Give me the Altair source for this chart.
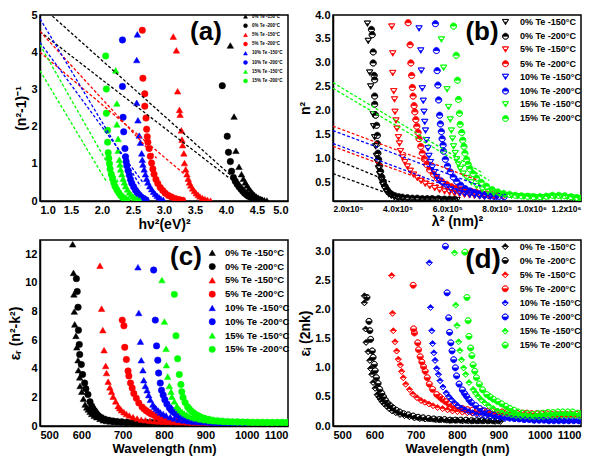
import altair as alt
import pandas as pd

SERIES = ["0% Te -150°C", "0% Te -200°C", "5% Te -150°C", "5% Te -200°C",
          "10% Te -150°C", "10% Te -200°C", "15% Te -150°C", "15% Te -200°C"]
COLORS = ["#000000", "#000000", "#ff0000", "#ff0000", "#0000ff", "#0000ff", "#00ff00", "#00ff00"]

# ---------------- panel (a): (n^2-1)^-1 vs (h nu)^2 ----------------
A_0_150 = [(4.07,4.18),(4.13,2.27),(4.16,1.35),(4.21,0.92),(4.25,0.72),(4.28,0.60),(4.31,0.50),(4.34,0.42),(4.37,0.34),(4.40,0.27),(4.43,0.21),(4.46,0.16),(4.49,0.12),(4.52,0.09),(4.55,0.06),(4.58,0.04),(4.62,0.02),(4.66,0.01)]
A_0_200 = [(3.94,3.10),(4.02,1.74),(4.04,1.31),(4.07,1.06),(4.09,0.80),(4.12,0.63),(4.15,0.53),(4.18,0.45),(4.21,0.38),(4.24,0.32),(4.27,0.26),(4.30,0.21),(4.33,0.17),(4.36,0.13),(4.40,0.10),(4.44,0.07),(4.48,0.05),(4.52,0.03),(4.56,0.02)]
A_5_150 = [(3.15,4.42),(3.20,4.05),(3.22,2.95),(3.25,2.45),(3.26,2.32),(3.28,1.90),(3.29,1.65),(3.30,1.50),(3.32,1.28),(3.33,1.02),(3.35,0.85),(3.37,0.72),(3.39,0.60),(3.41,0.50),(3.43,0.42),(3.46,0.34),(3.49,0.27),(3.52,0.21),(3.55,0.16),(3.58,0.12),(3.62,0.08),(3.66,0.05),(3.70,0.03),(3.75,0.01)]
A_5_200 = [(2.65,4.59),(2.66,3.30),(2.69,2.88),(2.69,2.55),(2.71,2.23),(2.72,1.93),(2.73,1.73),(2.74,1.58),(2.76,1.41),(2.78,1.20),(2.80,1.02),(2.82,0.86),(2.84,0.72),(2.87,0.58),(2.90,0.47),(2.94,0.36),(2.98,0.28),(3.02,0.21),(3.07,0.15),(3.12,0.11),(3.18,0.07),(3.24,0.04),(3.30,0.02)]
A_10_150 = [(2.57,4.48),(2.56,3.79),(2.56,2.64),(2.58,2.17),(2.60,1.76),(2.62,1.57),(2.64,1.28),(2.65,1.11),(2.66,0.98),(2.68,0.85),(2.70,0.72),(2.72,0.60),(2.74,0.50),(2.77,0.40),(2.80,0.32),(2.83,0.25),(2.86,0.19),(2.89,0.14),(2.92,0.10),(2.95,0.06),(2.99,0.03)]
A_10_200 = [(2.33,4.33),(2.33,3.08),(2.34,2.25),(2.35,1.86),(2.37,1.41),(2.38,1.19),(2.39,1.06),(2.40,0.95),(2.42,0.82),(2.44,0.70),(2.46,0.58),(2.48,0.48),(2.51,0.38),(2.54,0.29),(2.57,0.22),(2.60,0.16),(2.63,0.11),(2.67,0.07),(2.71,0.03)]
A_15_150 = [(2.22,3.51),(2.24,2.62),(2.24,2.06),(2.26,1.67),(2.26,1.35),(2.28,1.11),(2.29,0.98),(2.30,0.85),(2.32,0.72),(2.34,0.60),(2.36,0.50),(2.38,0.40),(2.41,0.31),(2.44,0.23),(2.47,0.17),(2.50,0.12),(2.53,0.08),(2.57,0.05),(2.61,0.02)]
A_15_200 = [(2.06,3.90),(2.07,3.01),(2.07,2.36),(2.09,1.90),(2.09,1.58),(2.10,1.30),(2.11,1.15),(2.12,1.00),(2.13,0.86),(2.15,0.72),(2.17,0.60),(2.19,0.49),(2.21,0.39),(2.24,0.30),(2.27,0.22),(2.30,0.15),(2.33,0.10),(2.36,0.06),(2.40,0.03)]
A_FIT_COLOR = ["#000000", "#000000", "#ff0000", "#ff0000", "#0000ff", "#0000ff", "#00ff00", "#00ff00"]
A_FIT_X0 = [1.20, 1.00, 1.00, 1.00, 1.00, 1.00, 1.00, 1.00]
A_FIT_Y0 = [4.97, 4.55, 4.56, 4.00, 4.90, 4.26, 4.20, 3.50]
A_FIT_X1 = [4.07, 4.05, 2.88, 3.33, 2.62, 2.66, 2.28, 2.08]
A_FIT_Y1 = [0.70, 0.62, 1.15, 0.72, 0.40, 0.50, 0.45, 0.50]
A_XTICKS = [1.0, 1.5, 2.0, 2.5, 3.0, 3.5, 4.0, 4.5, 5.0]
A_YTICKS = [0, 1, 2, 3, 4, 5]

# ---------------- panel (b): n^2 vs lambda^2 ----------------
B_0_150 = [(3.39e5,3.82),(3.42e5,3.46),(3.48e5,2.80),(3.52e5,2.51),(3.62e5,1.93),(3.64e5,1.68),(3.68e5,1.45),(3.72e5,1.26),(3.75e5,1.06),(3.79e5,0.93),(3.83e5,0.80),(3.88e5,0.68),(3.94e5,0.56),(4.00e5,0.46),(4.08e5,0.38),(4.16e5,0.31),(4.25e5,0.26),(4.35e5,0.23),(4.47e5,0.20),(4.60e5,0.18),(4.80e5,0.17),(5.00e5,0.16),(5.20e5,0.16),(5.40e5,0.15),(5.60e5,0.15),(5.80e5,0.15),(6.00e5,0.15),(6.20e5,0.15),(6.40e5,0.15),(6.60e5,0.14),(6.80e5,0.14),(7.00e5,0.14)]
B_0_200 = [(3.55e5,3.70),(3.58e5,3.59),(3.62e5,3.23),(3.62e5,3.00),(3.66e5,2.74),(3.68e5,2.65),(3.68e5,2.31),(3.68e5,2.14),(3.72e5,1.91),(3.76e5,1.70),(3.79e5,1.49),(3.79e5,1.32),(3.81e5,1.12),(3.84e5,0.99),(3.88e5,0.86),(3.92e5,0.74),(3.97e5,0.62),(4.03e5,0.52),(4.10e5,0.43),(4.18e5,0.36),(4.27e5,0.30),(4.37e5,0.26),(4.50e5,0.23),(4.65e5,0.21),(4.80e5,0.20),(5.00e5,0.19),(5.20e5,0.18),(5.40e5,0.18),(5.60e5,0.17),(5.80e5,0.17),(6.00e5,0.17),(6.25e5,0.17),(6.50e5,0.16),(6.70e5,0.16),(6.90e5,0.16)]
B_5_150 = [(4.37e5,3.76),(4.41e5,3.20),(4.41e5,2.79),(4.45e5,2.41),(4.48e5,2.24),(4.50e5,1.98),(4.54e5,1.80),(4.58e5,1.63),(4.64e5,1.45),(4.68e5,1.32),(4.72e5,1.16),(4.81e5,1.03),(4.90e5,0.93),(5.00e5,0.84),(5.12e5,0.75),(5.25e5,0.67),(5.40e5,0.60),(5.55e5,0.54),(5.72e5,0.48),(5.90e5,0.43),(6.10e5,0.39),(6.30e5,0.35),(6.50e5,0.32),(6.70e5,0.30),(6.90e5,0.28),(7.10e5,0.27),(7.30e5,0.25),(7.50e5,0.24),(7.70e5,0.23),(7.90e5,0.22),(8.10e5,0.21),(8.30e5,0.21),(8.50e5,0.20)]
B_5_200 = [(5.03e5,3.84),(5.11e5,3.38),(5.14e5,3.00),(5.17e5,2.74),(5.20e5,2.49),(5.23e5,2.31),(5.27e5,2.11),(5.30e5,1.98),(5.34e5,1.82),(5.38e5,1.68),(5.43e5,1.55),(5.47e5,1.42),(5.54e5,1.26),(5.60e5,1.12),(5.68e5,1.00),(5.78e5,0.88),(5.90e5,0.77),(6.05e5,0.68),(6.20e5,0.60),(6.38e5,0.53),(6.58e5,0.47),(6.78e5,0.42),(6.98e5,0.39),(7.18e5,0.36),(7.38e5,0.34),(7.58e5,0.32),(7.78e5,0.30),(7.98e5,0.28),(8.18e5,0.27),(8.40e5,0.26),(8.62e5,0.25),(8.85e5,0.24)]
B_10_150 = [(5.47e5,3.72),(5.54e5,3.26),(5.56e5,2.84),(5.60e5,2.47),(5.64e5,2.21),(5.67e5,1.98),(5.70e5,1.77),(5.73e5,1.59),(5.77e5,1.39),(5.83e5,1.22),(5.87e5,1.06),(5.93e5,0.93),(6.00e5,0.82),(6.08e5,0.72),(6.18e5,0.62),(6.30e5,0.54),(6.43e5,0.47),(6.58e5,0.41),(6.75e5,0.36),(6.93e5,0.32),(7.12e5,0.29),(7.32e5,0.27),(7.52e5,0.25),(7.72e5,0.24),(7.92e5,0.22),(8.12e5,0.21),(8.35e5,0.21),(8.60e5,0.20)]
B_10_200 = [(6.13e5,3.82),(6.17e5,3.26),(6.20e5,2.84),(6.23e5,2.54),(6.26e5,2.23),(6.30e5,1.91),(6.33e5,1.73),(6.37e5,1.57),(6.40e5,1.42),(6.44e5,1.29),(6.46e5,1.16),(6.53e5,0.99),(6.62e5,0.85),(6.73e5,0.73),(6.85e5,0.62),(6.99e5,0.53),(7.15e5,0.45),(7.33e5,0.38),(7.52e5,0.33),(7.70e5,0.30),(7.88e5,0.27),(8.08e5,0.25),(8.28e5,0.24),(8.50e5,0.22),(8.70e5,0.22),(8.90e5,0.21)]
B_15_150 = [(6.37e5,3.49),(6.46e5,2.90),(6.60e5,2.45),(6.66e5,2.08),(6.73e5,1.82),(6.77e5,1.59),(6.82e5,1.42),(6.86e5,1.26),(6.93e5,1.12),(6.99e5,0.99),(7.06e5,0.88),(7.13e5,0.79),(7.25e5,0.69),(7.39e5,0.60),(7.58e5,0.51),(7.79e5,0.43),(8.02e5,0.36),(8.25e5,0.31),(8.48e5,0.28),(8.72e5,0.26),(8.95e5,0.24),(9.20e5,0.23),(9.45e5,0.22),(9.70e5,0.21),(9.95e5,0.21),(1.02e6,0.20),(1.045e6,0.20),(1.07e6,0.21),(1.095e6,0.21),(1.12e6,0.21),(1.145e6,0.20),(1.17e6,0.19),(1.195e6,0.17)]
B_15_200 = [(6.86e5,3.77),(6.97e5,3.16),(7.02e5,2.64),(7.06e5,2.24),(7.10e5,1.95),(7.13e5,1.72),(7.19e5,1.55),(7.23e5,1.39),(7.28e5,1.26),(7.32e5,1.12),(7.39e5,0.99),(7.45e5,0.89),(7.52e5,0.79),(7.65e5,0.69),(7.79e5,0.60),(7.98e5,0.51),(8.19e5,0.43),(8.42e5,0.36),(8.65e5,0.31),(8.88e5,0.28),(9.12e5,0.26),(9.36e5,0.24),(9.60e5,0.23),(9.85e5,0.22),(1.01e6,0.21),(1.035e6,0.21),(1.06e6,0.22),(1.085e6,0.24),(1.11e6,0.24),(1.135e6,0.23),(1.16e6,0.21),(1.185e6,0.19),(1.20e6,0.18)]
B_FIT_COLOR = ["#00ff00", "#00ff00", "#ff0000", "#ff0000", "#0000ff", "#0000ff", "#000000", "#000000"]
B_FIT_X0 = [2.0e5, 2.0e5, 2.0e5, 2.0e5, 2.0e5, 2.0e5, 2.0e5, 2.0e5]
B_FIT_Y0 = [2.59, 2.47, 1.68, 1.26, 1.59, 1.32, 1.01, 0.69]
B_FIT_X1 = [8.05e5, 8.30e5, 7.80e5, 7.00e5, 8.00e5, 7.40e5, 4.30e5, 4.10e5]
B_FIT_Y1 = [0.70, 0.55, 0.56, 0.30, 0.42, 0.28, 0.52, 0.30]
B_XTICKS = [2.0e5, 4.0e5, 6.0e5, 8.0e5, 1.0e6, 1.2e6]
B_YTICKS = [0.5, 1.0, 1.5, 2.0, 2.5, 3.0, 3.5, 4.0]

# ---------------- panel (c): eps_r vs wavelength ----------------
C_0_150 = [(579,12.7),(581,10.7),(582,9.2),(583,8.0),(584,7.1),(587,6.3),(589,5.5),(592,4.6),(593,3.9),(596,3.4),(597,2.8),(601,2.4),(605,1.9),(609,1.5),(613,1.3),(617,1.15),(621,1.0),(625,0.85),(631,0.72),(637,0.62),(645,0.5),(653,0.4),(661,0.35),(670,0.32),(680,0.29),(690,0.28),(700,0.27),(710,0.26),(720,0.26),(730,0.25),(740,0.25),(752,0.25),(764,0.24),(776,0.24),(788,0.24),(800,0.24),(812,0.23),(824,0.23),(836,0.23),(848,0.23),(860,0.22)]
C_0_200 = [(588,10.3),(590,9.4),(592,8.3),(593,6.7),(595,5.7),(596,5.0),(600,4.3),(603,3.6),(608,3.0),(611,2.6),(616,2.2),(621,1.7),(625,1.4),(628,1.22),(632,1.06),(636,0.9),(641,0.73),(648,0.6),(657,0.48),(667,0.4),(677,0.35),(687,0.31),(698,0.29),(710,0.27),(722,0.26),(734,0.25),(746,0.25),(758,0.24),(770,0.24),(782,0.24),(794,0.23),(806,0.23),(818,0.23),(830,0.23),(842,0.22),(854,0.22)]
C_5_150 = [(645,11.2),(649,8.2),(652,6.7),(655,5.3),(659,4.2),(661,3.7),(665,3.1),(669,2.7),(673,2.4),(677,2.05),(683,1.72),(689,1.39),(693,1.24),(697,1.1),(703,0.97),(709,0.84),(716,0.73),(725,0.62),(735,0.52),(745,0.44),(755,0.4),(766,0.36),(777,0.33),(788,0.31),(799,0.3),(810,0.29),(822,0.28),(834,0.27),(846,0.26),(858,0.25),(870,0.24),(882,0.24),(894,0.23),(906,0.23)]
C_5_200 = [(699,7.4),(703,7.0),(705,5.5),(709,4.65),(713,3.85),(715,3.5),(719,3.0),(723,2.65),(727,2.27),(733,1.94),(739,1.61),(747,1.32),(752,1.18),(757,1.06),(763,0.95),(769,0.84),(777,0.73),(785,0.62),(795,0.53),(805,0.45),(816,0.39),(828,0.35),(840,0.32),(852,0.31),(864,0.3),(876,0.29),(888,0.28),(900,0.27),(912,0.27),(924,0.26),(936,0.26),(948,0.25),(960,0.25),(972,0.24)]
C_10_150 = [(737,11.1),(739,7.9),(743,5.9),(745,4.6),(749,3.9),(751,3.2),(755,2.8),(759,2.5),(763,2.16),(767,1.83),(773,1.5),(777,1.35),(781,1.21),(786,1.08),(791,0.95),(798,0.84),(805,0.73),(815,0.62),(825,0.52),(836,0.44),(848,0.38),(860,0.33),(872,0.3),(884,0.28),(896,0.26),(908,0.25),(920,0.24),(932,0.23),(944,0.23),(956,0.22),(968,0.22)]
C_10_200 = [(775,10.9),(779,7.4),(782,5.6),(785,4.6),(787,3.7),(791,3.0),(794,2.5),(798,2.16),(802,1.83),(807,1.54),(813,1.28),(817,1.14),(821,1.01),(826,0.9),(831,0.79),(838,0.7),(845,0.62),(855,0.53),(865,0.45),(876,0.39),(888,0.34),(900,0.31),(912,0.29),(924,0.27),(936,0.26),(948,0.25),(960,0.24),(972,0.24),(984,0.23),(996,0.23)]
C_15_150 = [(795,10.2),(801,7.3),(805,5.4),(806,4.25),(809,3.45),(813,2.8),(817,2.4),(819,2.05),(825,1.72),(831,1.39),(835,1.24),(839,1.1),(844,0.98),(849,0.88),(855,0.78),(861,0.68),(869,0.6),(877,0.53),(888,0.46),(900,0.4),(912,0.36),(924,0.33),(936,0.31),(948,0.29),(960,0.28),(972,0.27),(984,0.26),(996,0.26),(1008,0.25),(1020,0.25),(1032,0.24),(1044,0.24),(1056,0.24),(1068,0.24),(1080,0.24),(1092,0.24),(1100,0.24)]
C_15_200 = [(825,9.2),(829,6.3),(833,4.7),(837,3.6),(841,2.9),(843,2.4),(846,2.0),(851,1.65),(857,1.34),(861,1.2),(865,1.06),(870,0.95),(875,0.84),(882,0.73),(889,0.63),(898,0.54),(908,0.47),(918,0.41),(930,0.37),(942,0.34),(954,0.32),(966,0.3),(978,0.29),(990,0.28),(1002,0.28),(1014,0.27),(1026,0.27),(1038,0.26),(1050,0.26),(1062,0.26),(1074,0.26),(1086,0.26),(1098,0.26)]
C_XTICKS = [500, 600, 700, 800, 900, 1000, 1100]
C_YTICKS = [0, 2, 4, 6, 8, 10, 12]

# ---------------- panel (d): eps_i vs wavelength ----------------
D_0_150 = [(576,2.24),(576,2.12),(579,1.67),(580,1.44),(585,1.28),(589,1.13),(591,0.99),(594,0.89),(597,0.75),(602,0.65),(607,0.54),(611,0.5),(615,0.46),(619,0.42),(624,0.38),(630,0.34),(636,0.3),(643,0.26),(652,0.23),(662,0.2),(673,0.18),(685,0.16),(697,0.14),(710,0.13),(723,0.12),(736,0.12),(749,0.11),(762,0.11),(775,0.1),(788,0.1),(801,0.1),(814,0.09),(827,0.09),(840,0.09),(853,0.09),(866,0.09),(879,0.09),(892,0.08),(905,0.08)]
D_0_200 = [(582,2.21),(587,1.8),(589,1.64),(591,1.49),(595,1.29),(597,1.18),(600,1.06),(602,0.95),(605,0.83),(609,0.73),(613,0.63),(618,0.56),(622,0.5),(627,0.44),(632,0.39),(638,0.35),(645,0.31),(653,0.27),(661,0.24),(671,0.21),(682,0.19),(694,0.17),(706,0.15),(718,0.14),(731,0.13),(744,0.12),(757,0.11),(770,0.11),(783,0.1),(796,0.1),(809,0.1),(822,0.1),(835,0.09),(848,0.09),(861,0.09),(874,0.09),(887,0.09),(900,0.09)]
D_5_150 = [(642,2.59),(644,1.94),(646,1.64),(650,1.45),(654,1.29),(658,1.15),(663,1.05),(666,0.94),(670,0.83),(676,0.72),(685,0.63),(693,0.55),(703,0.49),(713,0.44),(722,0.41),(732,0.38),(742,0.35),(753,0.32),(765,0.3),(777,0.28),(789,0.26),(801,0.25),(813,0.24),(825,0.23),(837,0.22),(849,0.22),(861,0.21),(873,0.21),(885,0.21),(897,0.2),(909,0.2),(921,0.2),(933,0.19),(945,0.19),(957,0.19),(969,0.18),(981,0.18),(993,0.17),(1005,0.17)]
D_5_200 = [(694,2.42),(695,1.67),(697,1.6),(705,1.43),(707,1.31),(711,1.19),(715,1.1),(719,1.02),(723,0.94),(728,0.83),(733,0.72),(741,0.63),(751,0.54),(758,0.5),(764,0.46),(772,0.42),(780,0.38),(790,0.35),(801,0.32),(813,0.3),(825,0.28),(837,0.27),(849,0.26),(861,0.26),(873,0.25),(885,0.25),(897,0.24),(909,0.24),(921,0.23),(933,0.23),(945,0.22),(957,0.22),(969,0.22),(981,0.21),(993,0.21),(1005,0.21),(1017,0.21),(1029,0.2),(1041,0.2),(1053,0.2),(1065,0.2),(1077,0.2),(1089,0.2),(1100,0.2)]
D_10_150 = [(733,2.81),(736,2.04),(739,1.64),(741,1.42),(744,1.26),(747,1.13),(751,0.99),(755,0.89),(759,0.78),(766,0.67),(774,0.57),(780,0.51),(786,0.46),(794,0.4),(802,0.35),(811,0.31),(820,0.28),(829,0.25),(838,0.23),(848,0.2),(858,0.19),(869,0.17),(880,0.16),(892,0.15),(904,0.14),(916,0.13),(928,0.13),(940,0.12),(952,0.12),(964,0.11),(976,0.11),(988,0.1),(1000,0.1),(1012,0.1),(1024,0.1),(1036,0.1),(1048,0.1),(1060,0.09),(1072,0.09),(1084,0.09),(1096,0.09)]
D_10_200 = [(772,3.09),(776,2.29),(780,1.86),(782,1.61),(785,1.43),(788,1.29),(792,1.14),(796,1.0),(799,0.86),(805,0.72),(813,0.62),(818,0.56),(823,0.51),(829,0.45),(835,0.4),(845,0.35),(855,0.3),(866,0.26),(878,0.22),(890,0.19),(902,0.17),(914,0.15),(926,0.14),(938,0.13),(950,0.12),(962,0.11),(974,0.11),(986,0.1),(998,0.1),(1010,0.1),(1022,0.09),(1034,0.09),(1046,0.09),(1058,0.09),(1070,0.09),(1082,0.09),(1094,0.09)]
D_15_150 = [(794,2.98),(797,2.08),(800,1.73),(804,1.45),(807,1.3),(811,1.14),(816,1.0),(821,0.89),(829,0.75),(839,0.63),(845,0.57),(851,0.51),(859,0.45),(867,0.4),(877,0.35),(888,0.3),(899,0.26),(910,0.23),(921,0.21),(932,0.19),(943,0.18),(954,0.17),(965,0.17),(976,0.16),(987,0.16),(998,0.16),(1009,0.16),(1020,0.17),(1031,0.17),(1042,0.18),(1053,0.18),(1064,0.18),(1075,0.18),(1086,0.18),(1097,0.17)]
D_15_200 = [(819,2.99),(824,2.21),(827,1.81),(829,1.54),(833,1.34),(836,1.21),(839,1.05),(843,0.94),(847,0.83),(854,0.72),(862,0.62),(872,0.54),(880,0.5),(888,0.46),(898,0.42),(908,0.38),(918,0.34),(928,0.3),(938,0.27),(948,0.24),(960,0.22),(972,0.21),(984,0.2),(996,0.21),(1008,0.22),(1020,0.23),(1032,0.23),(1044,0.24),(1056,0.24),(1068,0.24),(1080,0.24),(1092,0.22),(1100,0.21)]
D_XTICKS = [500, 600, 700, 800, 900, 1000, 1100]
D_YTICKS = [0.0, 0.5, 1.0, 1.5, 2.0, 2.5, 3.0]

# ---------------- marker shapes ----------------
TRI_DOWN_HALF = "M-1,-0.85L1,-0.85L0,0.95Z M-1,-0.85L-0.5,0.05L0.5,0.05L1,-0.85Z"
CIRCLE_TOP_HALF = "M-1,0A1,1 0 1,1 1,0A1,1 0 1,1 -1,0Z M1,0L-1,0A1,1 0 0,0 1,0Z"
CIRCLE_BOTTOM_HALF = "M-1,0A1,1 0 1,1 1,0A1,1 0 1,1 -1,0Z M-1,0L1,0A1,1 0 0,0 -1,0Z"
DIAMOND_TOP_HALF = "M0,-1L1,0L0,1L-1,0Z M1,0L-1,0L0,1Z"
SHAPES_A = ["triangle-up", "circle"] * 4
SHAPES_B = [TRI_DOWN_HALF, CIRCLE_TOP_HALF] * 4
SHAPES_C = ["triangle-up", "circle"] * 4
SHAPES_D = [DIAMOND_TOP_HALF, CIRCLE_BOTTOM_HALF] * 4

FONT = "Liberation Sans"
W, H = 248, 186


def frame(lists):
    rows = []
    for name, pts in zip(SERIES, lists):
        for x, y in pts:
            rows.append({"series": name, "x": x, "y": y})
    return pd.DataFrame(rows)


def fit_frame(colors, x0, y0, x1, y1):
    rows = []
    for i, c in enumerate(colors):
        rows.append({"line": i, "c": c, "x": x0[i], "y": y0[i]})
        rows.append({"line": i, "c": c, "x": x1[i], "y": y1[i]})
    return pd.DataFrame(rows)


def make_legend(x, y, font, sym, sw, rowpad, offset):
    return alt.Legend(orient="none", legendX=x, legendY=y, direction="vertical", title=None,
                      labelFont=FONT, labelFontSize=font, labelFontWeight="bold", labelColor="black",
                      symbolSize=sym, symbolStrokeWidth=sw, symbolOpacity=1, rowPadding=rowpad,
                      labelOffset=offset, padding=0, labelLimit=300)


def panel(lists, shapes, xdom, ydom, xaxis, yaxis, leg, msize, mstroke, label, lpos, lsize, fits=None):
    xs = alt.Scale(domain=xdom, nice=False, zero=False)
    ys = alt.Scale(domain=ydom, nice=False, zero=False)
    pts = alt.Chart(frame(lists)).mark_point(filled=True, size=msize, strokeWidth=mstroke,
                                             opacity=1, clip=True).encode(
        x=alt.X("x:Q", scale=xs, axis=xaxis),
        y=alt.Y("y:Q", scale=ys, axis=yaxis),
        fill=alt.Fill("series:N", scale=alt.Scale(domain=SERIES, range=COLORS), legend=leg),
        stroke=alt.Stroke("series:N", scale=alt.Scale(domain=SERIES, range=COLORS), legend=leg),
        shape=alt.Shape("series:N", scale=alt.Scale(domain=SERIES, range=shapes), legend=leg),
    )
    layers = [pts]
    if fits is not None:
        layers.append(alt.Chart(fits).mark_line(strokeDash=[3, 2], strokeWidth=1.3, clip=True).encode(
            x=alt.X("x:Q", scale=xs, axis=xaxis),
            y=alt.Y("y:Q", scale=ys, axis=yaxis),
            detail="line:N",
            color=alt.Color("c:N", scale=None),
        ))
    layers.append(alt.Chart(pd.DataFrame({"t": [label]})).mark_text(
        font=FONT, fontSize=lsize, fontWeight="bold", color="black").encode(
        text="t:N", x=alt.value(lpos[0]), y=alt.value(lpos[1])))
    return alt.layer(*layers).properties(width=W, height=H)


pa = panel([A_0_150, A_0_200, A_5_150, A_5_200, A_10_150, A_10_200, A_15_150, A_15_200], SHAPES_A,
           [1.0, 5.0], [0, 5],
           alt.Axis(values=A_XTICKS, format=".1f", title="hν²(eV)²", labelFontSize=11, titleFontSize=14),
           alt.Axis(values=A_YTICKS, format="d", title="(n²-1)⁻¹", labelFontSize=11, titleFontSize=14),
           make_legend(203, -1, 4.5, 16, 0.5, 2.2, 4), 42, 0.5, "(a)", (166, 17), 26,
           fits=fit_frame(A_FIT_COLOR, A_FIT_X0, A_FIT_Y0, A_FIT_X1, A_FIT_Y1))

B_LABEL_EXPR = ("datum.value >= 1000000 ? format(datum.value / 1000000, '.1f') + 'x10⁶' : "
                "format(datum.value / 100000, '.1f') + 'x10⁵'")
pb = panel([B_0_150, B_0_200, B_5_150, B_5_200, B_10_150, B_10_200, B_15_150, B_15_200], SHAPES_B,
           [2.0e5, 1.2e6], [0.12, 4.0],
           alt.Axis(values=B_XTICKS, labelExpr=B_LABEL_EXPR, title="λ² (nm)²", labelFontSize=8.5,
                    titleFontSize=14, labelOverlap=False,
                    labelAlign={"condition": [{"test": "datum.value >= 1200000", "value": "right"},
                                              {"test": "datum.value >= 1000000", "value": "center"}],
                                "value": "left"}),
           alt.Axis(values=B_YTICKS, format=".1f", title="n²", labelFontSize=11, titleFontSize=14),
           make_legend(168, 2.5, 9, 36, 0.8, 3.2, 10), 38, 0.8, "(b)", (149, 17), 26,
           fits=fit_frame(B_FIT_COLOR, B_FIT_X0, B_FIT_Y0, B_FIT_X1, B_FIT_Y1))

pc = panel([C_0_150, C_0_200, C_5_150, C_5_200, C_10_150, C_10_200, C_15_150, C_15_200], SHAPES_C,
           [500, 1100], [0, 13],
           alt.Axis(values=C_XTICKS, format="d", title="Wavelength (nm)", labelFontSize=11, titleFontSize=13),
           alt.Axis(values=C_YTICKS, format="d", title="εᵣ (n²-k²)", labelFontSize=11, titleFontSize=14),
           make_legend(167.5, 8, 9.5, 40, 0.5, 2.8, 8), 42, 0.5, "(c)", (146, 17), 26)

pd_ = panel([D_0_150, D_0_200, D_5_150, D_5_200, D_10_150, D_10_200, D_15_150, D_15_200], SHAPES_D,
            [500, 1100], [0, 3.2],
            alt.Axis(values=D_XTICKS, format="d", title="Wavelength (nm)", labelFontSize=11, titleFontSize=13),
            alt.Axis(values=D_YTICKS, format=".1f", title="εᵢ (2nk)", labelFontSize=11, titleFontSize=14),
            make_legend(167.7, 2, 9, 36, 0.8, 3.1, 10), 36, 0.8, "(d)", (150, 20), 28)

chart = alt.concat(pa, pb, pc, pd_, columns=2, spacing={"row": 39, "column": 45},
                   bounds="flush", padding=0).resolve_scale(
    fill="independent", stroke="independent", shape="independent", color="independent"
).resolve_legend(
    fill="independent", stroke="independent", shape="independent", color="independent"
).configure_axis(
    labelFont=FONT, labelFontWeight="bold", labelColor="black", titleFont=FONT,
    titleFontWeight="bold", titleColor="black", domainColor="black", domainWidth=1.5,
    ticks=False, grid=False, labelPadding=3, titlePadding=2
).configure_view(stroke="black", strokeWidth=1.5)

chart.save("out.html", embed_options={"renderer": "svg", "actions": False})
